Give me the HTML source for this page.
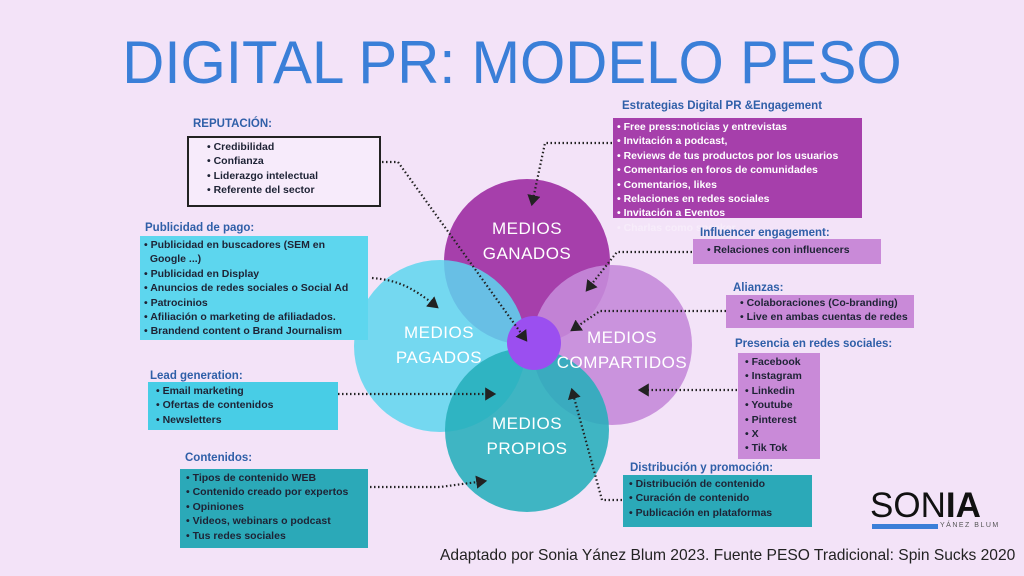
<!DOCTYPE html>
<html><head><meta charset="utf-8"><style>
body{margin:0;width:1024px;height:576px;overflow:hidden;background:#f3e3f8;font-family:"Liberation Sans",sans-serif;position:relative}
.a{position:absolute}
.lbl{position:absolute;font-size:11.5px;color:#2f5fa8;font-weight:bold}
.box{position:absolute;font-size:10.5px;font-weight:bold;color:#1e2335;box-sizing:border-box;padding:2px 0 0 6px;line-height:14.4px;white-space:nowrap}
.box div:before{content:"• ";}
.w{color:#fff}
.t{position:absolute;color:#fff;font-size:17px;text-align:center;letter-spacing:.5px;line-height:25px}
</style></head><body>
<div class="a" style="left:0;width:1024px;top:28px;text-align:center;font-size:60px;color:#3a7fd8;letter-spacing:0px;transform:scaleX(0.97)">DIGITAL PR: MODELO PESO</div>
<svg class="a" style="left:0;top:0" width="1024" height="576">
<defs><marker id="m" markerWidth="6" markerHeight="6" refX="4" refY="3" orient="auto"><path d="M0,0L5,3L0,6z" fill="#222"/></marker></defs>
<circle cx="527" cy="262" r="83" fill="#a63fab"/>
<circle cx="440" cy="346" r="86" fill="#5dd6ee" opacity=".85"/>
<circle cx="612" cy="345" r="80" fill="#c58ad9" opacity=".9"/>
<circle cx="527" cy="430" r="82" fill="#25aebb" opacity=".88"/>
<circle cx="534" cy="343" r="27" fill="#9b4ff0"/>
<g stroke="#222" stroke-width="2.2" stroke-dasharray="1.5 2.5" fill="none" marker-end="url(#m)">
<path d="M382,162 L398,162 L526,340"/>
<path d="M372,278 C395,280 410,285 437,307"/>
<path d="M338,394 L494,394"/>
<path d="M370,487 L440,487 L485,481"/>
<path d="M612,143 L545,143 L532,204"/>
<path d="M692,252 L617,252 L587,290"/>
<path d="M726,311 L600,311 L572,330"/>
<path d="M737,390 L640,390"/>
<path d="M622,500 L602,500 L572,390"/>
</g>
</svg>
<div class="t" style="left:470px;top:216px;width:114px">MEDIOS<br>GANADOS</div>
<div class="t" style="left:382px;top:320px;width:114px">MEDIOS<br>PAGADOS</div>
<div class="t" style="left:548px;top:325px;width:148px">MEDIOS<br>COMPARTIDOS</div>
<div class="t" style="left:470px;top:411px;width:114px">MEDIOS<br>PROPIOS</div>

<div class="lbl" style="left:193px;top:118px">REPUTACIÓN:</div>
<div class="box" style="left:187px;top:136px;width:194px;height:71px;border:2px solid #222;background:#f7ebfb;padding-left:18px">
<div>Credibilidad</div><div>Confianza</div><div>Liderazgo intelectual</div><div>Referente del sector</div></div>

<div class="lbl" style="left:145px;top:222px">Publicidad de pago:</div>
<div class="box" style="left:140px;top:236px;width:228px;height:104px;background:#5dd6ee;padding-left:4px">
<div>Publicidad en buscadores (SEM en<br>&nbsp;&nbsp;Google ...)</div><div>Publicidad en Display</div><div>Anuncios de redes sociales o Social Ad</div><div>Patrocinios</div><div>Afiliación o marketing de afiliadados.</div><div>Brandend content o Brand Journalism</div></div>

<div class="lbl" style="left:150px;top:370px">Lead generation:</div>
<div class="box" style="left:148px;top:382px;width:190px;height:48px;background:#48cde6;padding-left:8px">
<div>Email marketing</div><div>Ofertas de contenidos</div><div>Newsletters</div></div>

<div class="lbl" style="left:185px;top:452px">Contenidos:</div>
<div class="box" style="left:180px;top:469px;width:188px;height:79px;background:#2ba9b8;padding-left:6px">
<div>Tipos de contenido WEB</div><div>Contenido creado por expertos</div><div>Opiniones</div><div>Videos, webinars o podcast</div><div>Tus redes sociales</div></div>

<div class="lbl" style="left:622px;top:100px">Estrategias Digital PR &amp;Engagement</div>
<div class="box w" style="left:613px;top:118px;width:249px;height:100px;background:#a63fab;padding-left:4px">
<div>Free press:noticias y entrevistas</div><div>Invitación a podcast,</div><div>Reviews de tus productos por los usuarios</div><div>Comentarios en foros de comunidades</div><div>Comentarios, likes</div><div>Relaciones en redes sociales</div><div>Invitación a Eventos</div><div style="opacity:.35">Charlas como speaker</div></div>

<div class="lbl" style="left:700px;top:227px">Influencer engagement:</div>
<div class="box" style="left:693px;top:239px;width:188px;height:25px;background:#c98ad8;padding:4px 0 0 14px"><div>Relaciones con influencers</div></div>

<div class="lbl" style="left:733px;top:282px">Alianzas:</div>
<div class="box" style="left:726px;top:295px;width:188px;height:33px;background:#c98ad8;padding:1px 0 0 14px;line-height:14px"><div>Colaboraciones (Co-branding)</div><div>Live en ambas cuentas de redes</div></div>

<div class="lbl" style="left:735px;top:338px">Presencia en redes sociales:</div>
<div class="box" style="left:738px;top:353px;width:82px;height:106px;background:#c98ad8;padding:2px 0 0 7px"><div>Facebook</div><div>Instagram</div><div>Linkedin</div><div>Youtube</div><div>Pinterest</div><div>X</div><div>Tik Tok</div></div>

<div class="lbl" style="left:630px;top:462px">Distribución y promoción:</div>
<div class="box" style="left:623px;top:475px;width:189px;height:52px;background:#2ba9b8;padding:2px 0 0 6px"><div>Distribución de contenido</div><div>Curación de contenido</div><div>Publicación en plataformas</div></div>

<div class="a" style="left:870px;top:486px;font-size:35px;color:#111;letter-spacing:0px">SON<b>IA</b></div>
<div class="a" style="left:872px;top:524px;width:66px;height:5px;background:#3a7fd8"></div>
<div class="a" style="left:940px;top:522px;font-size:7px;color:#555;letter-spacing:1.5px">YÁNEZ BLUM</div>
<div class="a" style="left:440px;top:547px;font-size:15.6px;color:#222;white-space:nowrap">Adaptado por Sonia Yánez Blum 2023. Fuente PESO Tradicional: Spin Sucks 2020</div>
</body></html>
